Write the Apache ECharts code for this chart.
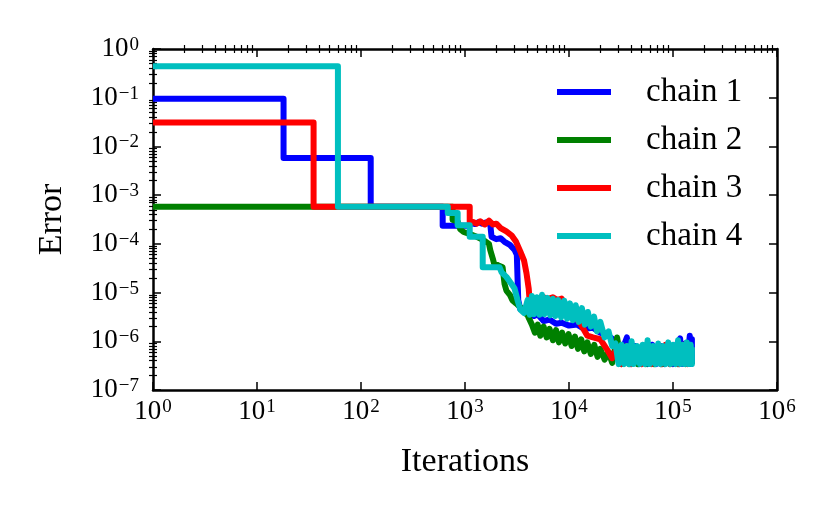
<!DOCTYPE html>
<html>
<head>
<meta charset="utf-8">
<script src="https://cdn.jsdelivr.net/npm/echarts@6/dist/echarts.min.js"></script>
<style>
  html, body { margin: 0; padding: 0; background: #fff; }
  #chart { width: 831px; height: 514px; }
</style>
</head>
<body>
<div id="chart"></div>
<script>
// [iterations, error]
var chain1 = [[1, 0.095], [18, 0.095], [18, 0.0058], [124, 0.0058], [124, 5.8e-4], [610, 5.8e-4], [610, 2.35e-4],
  [1100, 2.35e-4], [1150, 2.7e-4], [1250, 2.55e-4], [1350, 2.8e-4], [1450, 2.6e-4], [1600, 2.75e-4], [1750, 2.5e-4],
  [1800, 1.4e-4], [2000, 1.25e-4], [2200, 1.3e-4], [2400, 1.1e-4], [2700, 9.5e-5], [3000, 7.5e-5], [3150, 6e-5],
  [3200, 2e-5], [3250, 7e-6], [3400, 4.6e-6], [3700, 4.2e-6], [4000, 3.8e-6], [4600, 3.3e-6], [5000, 3.6e-6],
  [5700, 2.6e-6], [6500, 2.8e-6], [7500, 2.3e-6], [8500, 2.4e-6], [1.0e4, 2.1e-6], [1.2e4, 2.2e-6], [1.4e4, 1.8e-6],
  [1.7e4, 1.9e-6], [2.0e4, 1.5e-6], [2.4e4, 1.3e-6], [2.8e4, 1.0e-6], [3.1e4, 5e-7], [3.6e4, 1.2e-6], [3.9e4, 3.4e-7],
  [4.3e4, 8e-7], [4.7e4, 3.4e-7], [5.2e4, 8e-7], [5.7e4, 3.4e-7], [6.3e4, 8.5e-7], [6.9e4, 3.4e-7], [7.6e4, 8e-7],
  [8.3e4, 3.4e-7], [9.1e4, 8.5e-7], [1.0e5, 3.4e-7], [1.1e5, 9e-7], [1.17e5, 1.15e-6], [1.22e5, 3.4e-7], [1.3e5, 9e-7],
  [1.36e5, 3.4e-7], [1.45e5, 1.3e-6], [1.49e5, 3.4e-7], [1.52e5, 1.1e-6], [1.52e5, 3.4e-7]];

var chain2 = [[1, 5.8e-4], [760, 5.8e-4], [760, 3.1e-4], [850, 2.9e-4], [900, 2e-4], [970, 1.75e-4], [1100, 1.6e-4],
  [1300, 1.4e-4], [1500, 1.2e-4], [1700, 1e-4], [1750, 7.4e-5], [1850, 5e-5], [1900, 4e-5], [2100, 3.6e-5],
  [2300, 3.3e-5], [2400, 1.5e-5], [2500, 1.1e-5], [2700, 9e-6], [2850, 7e-6], [3100, 6e-6], [3400, 5e-6],
  [3700, 4e-6], [4000, 3.4e-6], [4400, 2.2e-6], [4700, 1.5e-6], [5000, 2.2e-6], [5300, 1.3e-6], [5700, 2.0e-6],
  [6100, 1.2e-6], [6500, 1.8e-6], [7000, 1.05e-6], [7500, 1.7e-6], [8000, 9.5e-7], [8600, 1.5e-6], [9200, 9e-7],
  [9900, 1.4e-6], [1.06e4, 8e-7], [1.14e4, 1.25e-6], [1.22e4, 7e-7], [1.31e4, 1.1e-6], [1.4e4, 6.2e-7],
  [1.5e4, 9.5e-7], [1.62e4, 5.5e-7], [1.75e4, 8.5e-7], [1.88e4, 4.8e-7], [2.0e4, 7e-7], [2.2e4, 4.2e-7],
  [2.4e4, 6e-7], [2.6e4, 3.6e-7], [2.9e4, 1.2e-6], [3.2e4, 3.4e-7], [3.5e4, 7.5e-7], [3.8e4, 3.4e-7], [4.2e4, 7e-7],
  [4.6e4, 3.4e-7], [5.0e4, 7.5e-7], [5.5e4, 3.4e-7], [6.0e4, 7e-7], [6.6e4, 3.4e-7], [7.2e4, 7.5e-7], [7.9e4, 3.4e-7],
  [8.6e4, 7e-7], [9.4e4, 3.4e-7], [1.03e5, 7.5e-7], [1.12e5, 3.4e-7], [1.22e5, 7e-7], [1.32e5, 3.4e-7],
  [1.42e5, 7e-7], [1.52e5, 3.4e-7]];

var chain3 = [[1, 0.031], [35, 0.031], [35, 5.8e-4], [1110, 5.8e-4], [1110, 2.6e-4], [1200, 2.8e-4], [1300, 2.6e-4],
  [1400, 2.9e-4], [1550, 2.5e-4], [1700, 3.0e-4], [1850, 2.5e-4], [2000, 2.6e-4], [2200, 2.1e-4], [2500, 1.8e-4],
  [2800, 1.5e-4], [3100, 1.1e-4], [3400, 7e-5], [3700, 4.5e-5], [3900, 2.5e-5], [4100, 1.2e-5], [4200, 6e-6],
  [4300, 4.6e-6], [4500, 5.5e-6], [4800, 7.6e-6], [5200, 7.2e-6], [5700, 8e-6], [6300, 7.4e-6], [7000, 8e-6],
  [7700, 7e-6], [8500, 7.5e-6], [9000, 6e-6], [1.0e4, 5e-6], [1.1e4, 4e-6], [1.2e4, 2.8e-6], [1.3e4, 2.2e-6],
  [1.5e4, 1.3e-6], [1.7e4, 1.2e-6], [2.0e4, 1.1e-6], [2.3e4, 7e-7], [2.6e4, 4.5e-7], [2.9e4, 7.5e-7], [3.2e4, 3.4e-7],
  [3.6e4, 8e-7], [4.0e4, 3.4e-7], [4.5e4, 7.5e-7], [5.0e4, 3.4e-7], [5.6e4, 8.5e-7], [6.2e4, 3.4e-7], [6.9e4, 7.5e-7],
  [7.7e4, 3.4e-7], [8.5e4, 8.5e-7], [9.4e4, 3.4e-7], [1.04e5, 7.5e-7], [1.15e5, 3.4e-7], [1.26e5, 8.5e-7],
  [1.38e5, 3.4e-7], [1.52e5, 7.5e-7]];

var chain4 = [[1, 0.44], [60, 0.44], [60, 5.8e-4], [683, 5.8e-4], [683, 4.3e-4], [850, 4.3e-4], [850, 2.4e-4],
  [1110, 2.4e-4], [1110, 1.4e-4], [1480, 1.4e-4], [1480, 3.3e-5], [2150, 3.3e-5], [2250, 2.6e-5], [2500, 2.1e-5],
  [2800, 1.5e-5], [3000, 1.2e-5], [3200, 7e-6], [3400, 4.5e-6], [3700, 3.8e-6], [4000, 7e-6], [4200, 3.5e-6],
  [4400, 8.5e-6], [4600, 3.6e-6], [4900, 8e-6], [5200, 3.5e-6], [5500, 9e-6], [5800, 3.6e-6], [6200, 7.8e-6],
  [6600, 3.4e-6], [7000, 7.5e-6], [7400, 3.3e-6], [7900, 7e-6], [8400, 3.1e-6], [9000, 6.8e-6], [9600, 2.9e-6],
  [1.02e4, 6e-6], [1.09e4, 2.7e-6], [1.16e4, 5.5e-6], [1.24e4, 2.5e-6], [1.33e4, 4.8e-6], [1.42e4, 2.2e-6],
  [1.52e4, 4e-6], [1.62e4, 2.0e-6], [1.74e4, 3.2e-6], [1.86e4, 1.6e-6], [2.0e4, 2.5e-6], [2.2e4, 1.2e-6],
  [2.4e4, 1.6e-6], [2.6e4, 8e-7], [2.8e4, 9e-7], [3.0e4, 3.4e-7], [3.2e4, 8.5e-7], [3.4e4, 3.4e-7], [3.6e4, 8e-7],
  [3.8e4, 3.4e-7], [4.0e4, 1.0e-6], [4.2e4, 3.4e-7], [4.5e4, 8e-7], [4.8e4, 3.4e-7], [5.1e4, 8.5e-7], [5.4e4, 3.4e-7],
  [5.7e4, 1.05e-6], [6.0e4, 3.4e-7], [6.4e4, 8e-7], [6.8e4, 3.4e-7], [7.2e4, 9e-7], [7.6e4, 3.4e-7], [8.0e4, 8e-7],
  [8.5e4, 3.4e-7], [9.0e4, 9.5e-7], [9.5e4, 3.4e-7], [1.0e5, 8.5e-7], [1.06e5, 3.4e-7], [1.12e5, 1.05e-6],
  [1.18e5, 3.4e-7], [1.24e5, 8.5e-7], [1.3e5, 3.4e-7], [1.36e5, 9.5e-7], [1.42e5, 3.4e-7], [1.48e5, 8.5e-7],
  [1.52e5, 3.4e-7], [1.52e5, 7.5e-7]];

var chainNames = ['chain 1', 'chain 2', 'chain 3', 'chain 4'];
var chainColors = ['#0000ff', '#008000', '#ff0000', '#00bfbf'];
var chains = [chain1, chain2, chain3, chain4];

var xRange = [1, 1e6];
var yRange = [1e-7, 1];

// minor tick spots in log10 space (2..9 of every decade)
var minorX = [], minorY = [];
for (var n = 0; n < 6; n++) for (var k = 2; k < 10; k++) minorX.push(n + Math.log10(k));
for (var m = -7; m < 0; m++) for (var j = 2; j < 10; j++) minorY.push(m + Math.log10(j));

var serif = 'Liberation Serif';

function powLabel(v) {
  var e = Math.round(Math.log10(v));
  var s = e < 0 ? '\u2212' + (-e) : '' + e;
  return '{b|10}{s|' + s + '}';
}
var labelRich = {
  b: { fontFamily: serif, fontSize: 27, lineHeight: 27, color: '#000' },
  s: { fontFamily: serif, fontSize: 19, lineHeight: 19, color: '#000', verticalAlign: 'top', padding: [0, 0, 6, 1] }
};

var lineAx = { show: true, lineStyle: { color: '#000', width: 2.5 } };
var majorTick = { show: true, inside: true, length: 8, lineStyle: { color: '#000', width: 1.5 } };

var chart = echarts.init(document.getElementById('chart'));

var option = {
  backgroundColor: '#fff',
  animation: false,
  legend: {
    orient: 'vertical',
    left: 557,
    top: 75,
    padding: 0,
    itemWidth: 54,
    itemHeight: 6,
    itemGap: 14,
    icon: 'rect',
    data: chainNames,
    textStyle: { fontFamily: serif, fontSize: 33, lineHeight: 34, color: '#000', padding: [0, 0, 0, 30] }
  },
  grid: [
    { left: 153, right: 54, top: 49, bottom: 124 },
    { left: 153, right: 54, top: 49, bottom: 124 }
  ],
  xAxis: [
    {
      type: 'log', logBase: 10, min: xRange[0], max: xRange[1], splitNumber: 6, gridIndex: 0, position: 'bottom',
      name: 'Iterations', nameLocation: 'middle', nameGap: 55,
      nameTextStyle: { fontFamily: serif, fontSize: 34, color: '#000' },
      axisLine: lineAx, axisTick: majorTick, splitLine: { show: false }, minorTick: { show: false },
      axisLabel: { margin: 8, fontFamily: serif, fontSize: 27, formatter: powLabel, rich: labelRich }
    },
    {
      type: 'log', logBase: 10, min: xRange[0], max: xRange[1], splitNumber: 6, gridIndex: 0, position: 'top',
      axisLine: lineAx, axisTick: majorTick, splitLine: { show: false }, axisLabel: { show: false }
    },
    {
      type: 'value', min: 0, max: 6, gridIndex: 1, position: 'bottom',
      axisLine: { show: false }, splitLine: { show: false }, axisLabel: { show: false },
      axisTick: { show: true, inside: true, length: 4, customValues: minorX, lineStyle: { color: '#000', width: 1.2 } }
    },
    {
      type: 'value', min: 0, max: 6, gridIndex: 1, position: 'top',
      axisLine: { show: false }, splitLine: { show: false }, axisLabel: { show: false },
      axisTick: { show: true, inside: true, length: 4, customValues: minorX, lineStyle: { color: '#000', width: 1.2 } }
    }
  ],
  yAxis: [
    {
      type: 'log', logBase: 10, min: yRange[0], max: yRange[1], splitNumber: 7, gridIndex: 0, position: 'left',
      name: 'Error', nameLocation: 'middle', nameGap: 84,
      nameTextStyle: { fontFamily: serif, fontSize: 34, color: '#000' },
      axisLine: lineAx, axisTick: majorTick, splitLine: { show: false },
      axisLabel: { margin: 14, fontFamily: serif, fontSize: 27, formatter: powLabel, rich: labelRich }
    },
    {
      type: 'log', logBase: 10, min: yRange[0], max: yRange[1], splitNumber: 7, gridIndex: 0, position: 'right',
      axisLine: lineAx, axisTick: majorTick, splitLine: { show: false }, axisLabel: { show: false }
    },
    {
      type: 'value', min: -7, max: 0, gridIndex: 1, position: 'left',
      axisLine: { show: false }, splitLine: { show: false }, axisLabel: { show: false },
      axisTick: { show: true, inside: true, length: 4, customValues: minorY, lineStyle: { color: '#000', width: 1.2 } }
    },
    {
      type: 'value', min: -7, max: 0, gridIndex: 1, position: 'right',
      axisLine: { show: false }, splitLine: { show: false }, axisLabel: { show: false },
      axisTick: { show: true, inside: true, length: 4, customValues: minorY, lineStyle: { color: '#000', width: 1.2 } }
    }
  ],
  series: chains.map(function (d, i) {
    return {
      name: chainNames[i],
      type: 'line',
      xAxisIndex: 0,
      yAxisIndex: 0,
      data: d,
      showSymbol: false,
      symbol: 'none',
      color: chainColors[i],
      lineStyle: { color: chainColors[i], width: 6, join: 'round' },
      z: 2 + i
    };
  })
};

chart.setOption(option);
</script>
</body>
</html>
